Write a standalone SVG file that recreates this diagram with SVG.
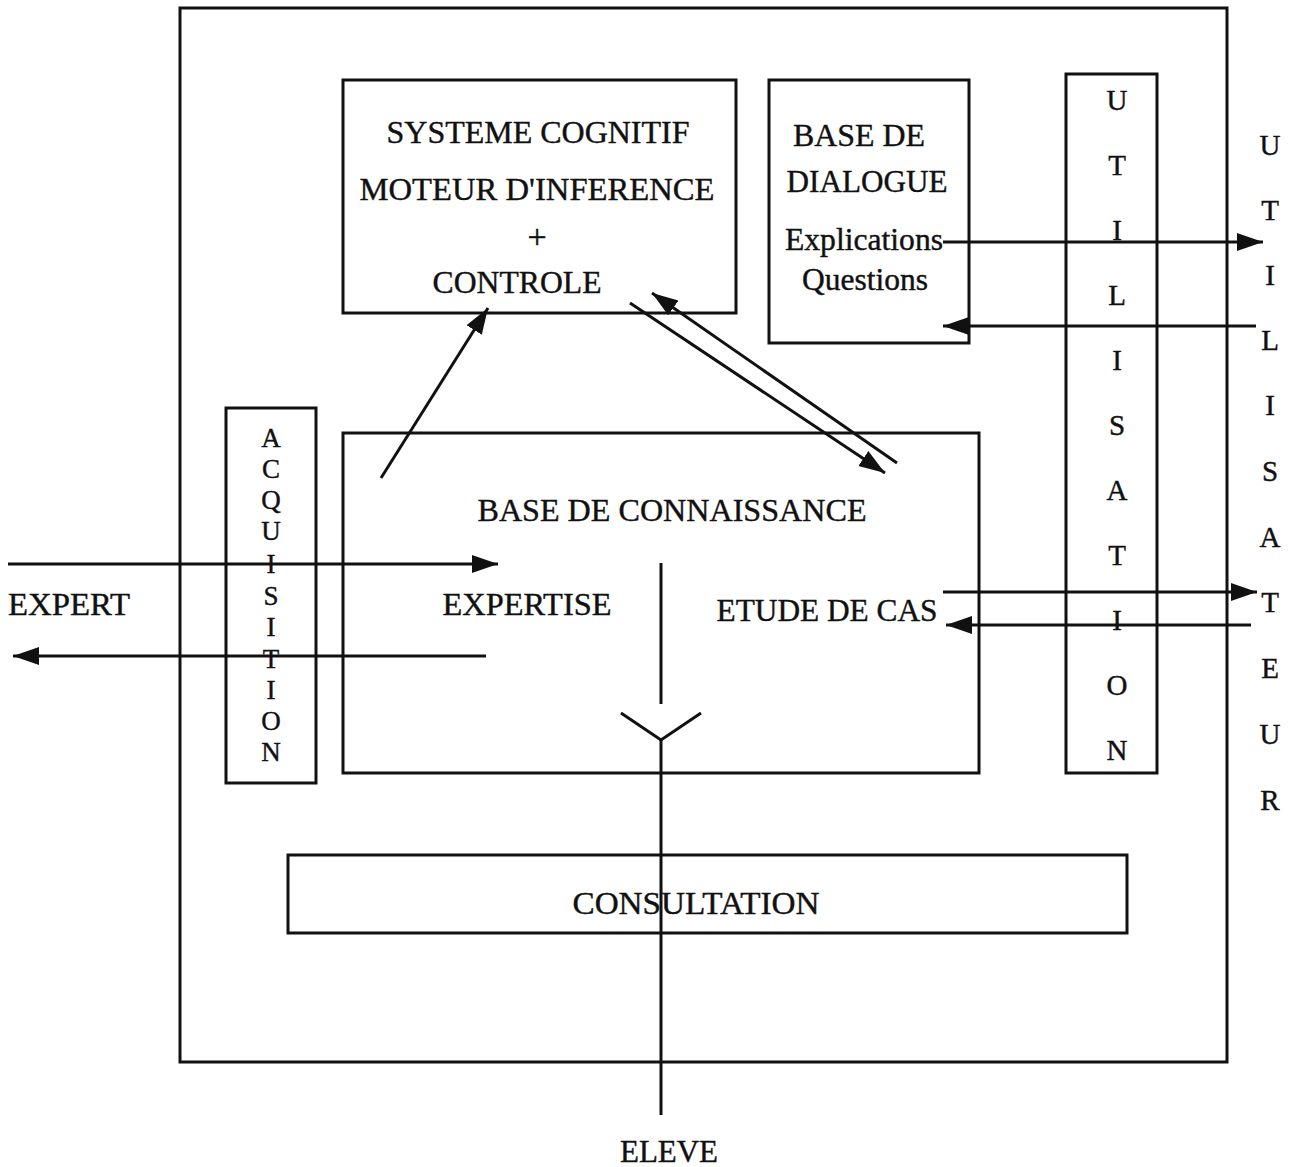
<svg xmlns="http://www.w3.org/2000/svg" width="1309" height="1167" viewBox="0 0 1309 1167">
<style>
.box{fill:none;stroke:#111;stroke-width:3}
.ln{fill:none;stroke:#111;stroke-width:3}
.t{font-family:"Liberation Serif","Times New Roman",serif;font-size:31px;fill:#111;stroke:#111;stroke-width:0.4;text-anchor:middle}
.v{font-family:"Liberation Serif","Times New Roman",serif;font-size:29px;fill:#111;stroke:#111;stroke-width:0.4;text-anchor:middle}
.a{font-family:"Liberation Serif","Times New Roman",serif;font-size:27px;fill:#111;stroke:#111;stroke-width:0.4;text-anchor:middle}
</style>
<defs>
<marker id="ah" markerUnits="userSpaceOnUse" markerWidth="30" markerHeight="22" refX="26" refY="10" orient="auto">
<path d="M0,1 L26,10 L0,19 Z" fill="#111"/>
</marker>
</defs>
<rect width="1309" height="1167" fill="#fff"/>
<g id="outer"><rect class="box" x="180" y="8" width="1047" height="1054"/></g>
<g id="systeme-cognitif">
<rect class="box" x="343" y="80" width="393" height="233"/>
<text class="t" x="538" y="143" textLength="303" lengthAdjust="spacingAndGlyphs">SYSTEME COGNITIF</text>
<text class="t" x="537" y="200" textLength="355" lengthAdjust="spacingAndGlyphs">MOTEUR D'INFERENCE</text>
<text class="t" x="537" y="248" style="font-size:34px">+</text>
<text class="t" x="517" y="293" textLength="169" lengthAdjust="spacingAndGlyphs">CONTROLE</text>
</g>
<g id="base-dialogue">
<rect class="box" x="769" y="80" width="200" height="263"/>
<text class="t" x="859" y="146" textLength="132" lengthAdjust="spacingAndGlyphs">BASE DE</text>
<text class="t" x="867" y="192" textLength="161" lengthAdjust="spacingAndGlyphs">DIALOGUE</text>
<text class="t" x="864" y="250" textLength="158" lengthAdjust="spacingAndGlyphs">Explications</text>
<text class="t" x="865" y="290" textLength="126" lengthAdjust="spacingAndGlyphs">Questions</text>
</g>
<g id="utilisation">
<rect class="box" x="1066" y="74" width="91" height="699"/>
<text class="v" x="1117" y="110">U</text>
<text class="v" x="1117" y="175">T</text>
<text class="v" x="1117" y="240">I</text>
<text class="v" x="1117" y="305">L</text>
<text class="v" x="1117" y="370">I</text>
<text class="v" x="1117" y="435">S</text>
<text class="v" x="1117" y="500">A</text>
<text class="v" x="1117" y="565">T</text>
<text class="v" x="1117" y="630">I</text>
<text class="v" x="1117" y="695">O</text>
<text class="v" x="1117" y="760">N</text>
</g>
<g id="utilisateur">
<text class="v" x="1270" y="155">U</text>
<text class="v" x="1270" y="220">T</text>
<text class="v" x="1270" y="285">I</text>
<text class="v" x="1270" y="350">L</text>
<text class="v" x="1270" y="415">I</text>
<text class="v" x="1270" y="481">S</text>
<text class="v" x="1270" y="547">A</text>
<text class="v" x="1270" y="612">T</text>
<text class="v" x="1270" y="678">E</text>
<text class="v" x="1270" y="744">U</text>
<text class="v" x="1270" y="810">R</text>
</g>
<g id="acquisition">
<rect class="box" x="226" y="408" width="90" height="375"/>
<text class="a" x="271" y="447">A</text>
<text class="a" x="271" y="478">C</text>
<text class="a" x="271" y="509">Q</text>
<text class="a" x="271" y="540">U</text>
<text class="a" x="271" y="573">I</text>
<text class="a" x="271" y="605">S</text>
<text class="a" x="271" y="636">I</text>
<text class="a" x="271" y="668">T</text>
<text class="a" x="271" y="699">I</text>
<text class="a" x="271" y="730">O</text>
<text class="a" x="271" y="761">N</text>
</g>
<g id="base-connaissance">
<rect class="box" x="343" y="433" width="636" height="340"/>
<text class="t" x="672" y="521" textLength="389" lengthAdjust="spacingAndGlyphs">BASE DE CONNAISSANCE</text>
<text class="t" x="527" y="615" textLength="169" lengthAdjust="spacingAndGlyphs">EXPERTISE</text>
<text class="t" x="827" y="621" textLength="221" lengthAdjust="spacingAndGlyphs">ETUDE DE CAS</text>
</g>
<g id="expert"><text class="t" x="69" y="615" textLength="122" lengthAdjust="spacingAndGlyphs">EXPERT</text></g>
<g id="consultation">
<rect class="box" x="288" y="855" width="839" height="78"/>
<text class="t" x="696" y="914" textLength="247" lengthAdjust="spacingAndGlyphs">CONSULTATION</text>
</g>
<g id="eleve"><text class="t" x="669" y="1162" textLength="98" lengthAdjust="spacingAndGlyphs">ELEVE</text></g>
<g id="connectors">
<line class="ln" x1="381" y1="478" x2="488" y2="308" marker-end="url(#ah)"/>
<line class="ln" x1="630" y1="303" x2="885" y2="473" marker-end="url(#ah)"/>
<line class="ln" x1="897" y1="463" x2="652" y2="293" marker-end="url(#ah)"/>
<line class="ln" x1="943" y1="242" x2="1263" y2="242" marker-end="url(#ah)"/>
<line class="ln" x1="1256" y1="326" x2="943" y2="326" marker-end="url(#ah)"/>
<line class="ln" x1="943" y1="592" x2="1257" y2="592" marker-end="url(#ah)"/>
<line class="ln" x1="1251" y1="625" x2="946" y2="625" marker-end="url(#ah)"/>
<line class="ln" x1="8" y1="564" x2="498" y2="564" marker-end="url(#ah)"/>
<line class="ln" x1="486" y1="656" x2="13" y2="656" marker-end="url(#ah)"/>
<line class="ln" x1="661" y1="563" x2="661" y2="704"/>
<polyline class="ln" points="621,713 661,740 701,713"/>
<line class="ln" x1="661" y1="740" x2="661" y2="1115"/>
</g>
</svg>
